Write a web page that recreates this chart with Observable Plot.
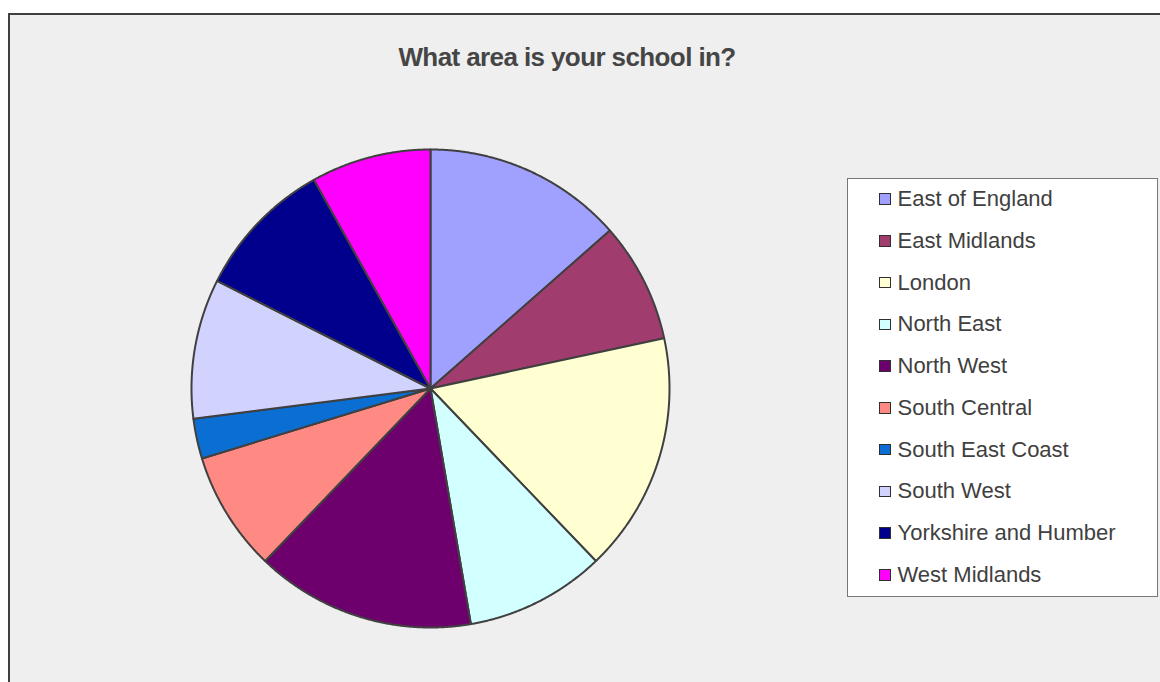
<!DOCTYPE html>
<html>
<head>
<meta charset="utf-8">
<script src="https://cdn.jsdelivr.net/npm/d3@7"></script>
<script src="https://cdn.jsdelivr.net/npm/@observablehq/plot@0.6"></script>
<style>
  html, body { margin: 0; padding: 0; background: #ffffff; width: 1160px; height: 682px; overflow: hidden; }
  #frame { position: absolute; left: 8px; top: 13px; width: 1170px; height: 700px; background: #efefef;
           border-top: 2px solid #404040; border-left: 2px solid #404040; box-sizing: border-box; }
  #chart { position: absolute; left: 0; top: 0; }
  #title { position: absolute; left: 0; width: 1134px; top: 42px; text-align: center;
           font-family: "Liberation Sans", Arial, sans-serif; font-weight: bold; font-size: 26px;
           letter-spacing: -0.6px; color: #454545; }
  #legend { position: absolute; left: 847px; top: 178px; width: 311px; height: 419px; box-sizing: border-box;
            background: #ffffff; border: 1.5px solid #777777; }
  .item { position: absolute; left: 0; height: 24px; display: flex; align-items: center;
          font-family: "Liberation Sans", Arial, sans-serif; font-size: 22px; color: #404040; white-space: nowrap; }
  .sw { width: 9.5px; height: 9.5px; border: 1.6px solid #303030; margin-left: 31px; margin-right: 7px; }
</style>
</head>
<body>
<div id="frame"></div>
<div id="title"></div>
<div id="chart"></div>
<div id="legend"></div>
<script>
const title = "What area is your school in?";
const regions = ["East of England", "East Midlands", "London", "North East", "North West",
                 "South Central", "South East Coast", "South West", "Yorkshire and Humber", "West Midlands"];
const counts = [10, 6, 12, 7, 11, 6, 2, 7, 7, 6];
const colors = ["#a0a0ff", "#a03c6e", "#ffffd2", "#d2ffff", "#6e006e",
                "#ff8a84", "#0a6ed2", "#d2d2ff", "#00008c", "#ff00ff"];

document.getElementById("title").textContent = title;

// Build slice outlines from the pie layout (angles from the data)
const arcs = d3.pie().sort(null).value(d => d.count)(regions.map((r, i) => ({region: r, count: counts[i]})));
const pts = [];
for (const a of arcs) {
  const r = a.data.region;
  pts.push({region: r, x: 0, y: 0});
  const n = Math.max(2, Math.ceil((a.endAngle - a.startAngle) / 0.005));
  for (let k = 0; k <= n; k++) {
    const t = a.startAngle + (a.endAngle - a.startAngle) * k / n;
    pts.push({region: r, x: Math.sin(t), y: Math.cos(t)});
  }
  pts.push({region: r, x: 0, y: 0});
}

const chart = Plot.plot({
  width: 1160,
  height: 682,
  margin: 0,
  style: {background: "transparent", overflow: "visible"},
  x: {domain: [-1, 1], range: [191, 669], axis: null},
  y: {domain: [-1, 1], range: [627, 149], axis: null},
  color: {domain: regions, range: colors},
  marks: [
    Plot.line(pts, {x: "x", y: "y", z: "region", fill: "region", stroke: "#404040",
                    strokeWidth: 2, strokeLinejoin: "round", curve: "linear"})
  ]
});
document.getElementById("chart").appendChild(chart);

// Legend
const legend = document.getElementById("legend");
regions.forEach((r, i) => {
  const it = document.createElement("div");
  it.className = "item";
  it.style.top = (8 + i * 41.75) + "px";
  const sw = document.createElement("div");
  sw.className = "sw";
  sw.style.background = colors[i];
  const tx = document.createElement("span");
  tx.textContent = r;
  it.appendChild(sw); it.appendChild(tx);
  legend.appendChild(it);
});
</script>
</body>
</html>
